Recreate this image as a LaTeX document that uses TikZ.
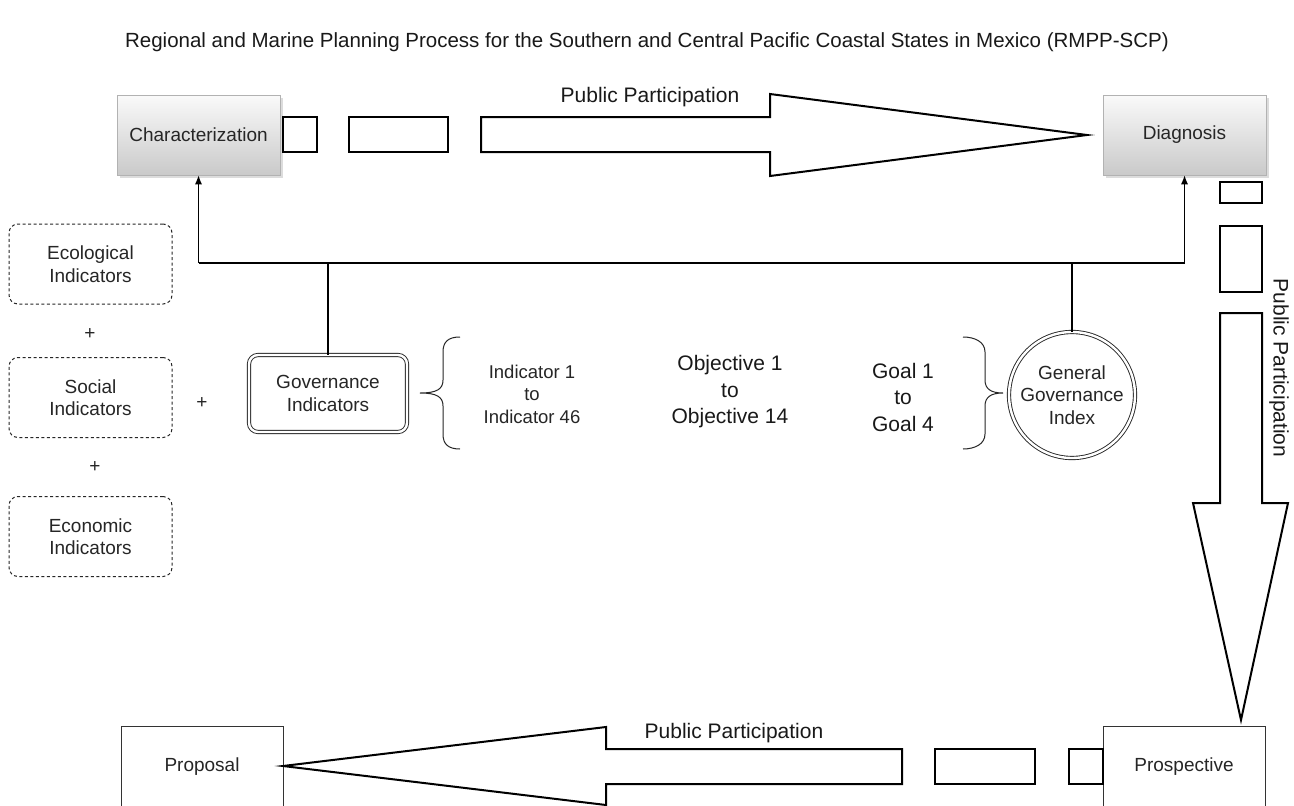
\documentclass[tikz,border=0pt]{standalone}
\usepackage{fontspec}
\setmainfont{Liberation Sans}
\usetikzlibrary{arrows.meta,shadows}
\begin{document}
\begin{tikzpicture}[x=1pt,y=-1pt,
  txt/.style={font=\fontsize{19}{22.5}\selectfont, text=black!85, align=center},
  bigtxt/.style={font=\fontsize{21}{26.5}\selectfont, text=black!90, align=center},
  graybox/.style={txt, minimum width=163pt, minimum height=80pt, inner sep=0pt,
    draw=gray!60, line width=0.6pt, top color=gray!4, bottom color=gray!42,
    drop shadow={shadow xshift=2.5pt, shadow yshift=-2.5pt, fill=gray!60, opacity=0.45}},
  whitebox/.style={txt, minimum width=162pt, minimum height=82pt, inner sep=0pt,
    draw=black!80, line width=0.9pt, fill=white},
  dashbox/.style={txt, minimum width=163pt, minimum height=80pt, inner sep=0pt,
    draw=black!85, line width=1pt, dash pattern=on 3pt off 2.5pt, rounded corners=9pt},
  dblbox/.style={txt, minimum width=158pt, minimum height=77pt, inner sep=0pt,
    draw=black!85, line width=0.9pt, double=white, double distance=2.4pt, rounded corners=9pt},
  dblcircle/.style={txt, circle, minimum size=126pt, inner sep=0pt,
    draw=black!85, line width=0.9pt, double=white, double distance=2.4pt},
  fatarrow/.style={draw=black, line width=2pt, line join=miter, fill=white},
  conn/.style={draw=black, line width=1.1pt},
  tip/.style={-{Latex[length=9pt,width=7pt]}},
  brace/.style={draw=black!85, line width=1pt}
]
\useasboundingbox (0,0) rectangle (1294,806);
\clip (0,0) rectangle (1294,806);
\fill[white] (0,0) rectangle (1294,806);

% title
\node[txt, font=\fontsize{20.5}{24}\selectfont, text=black!90] (title) at (647,42) {Regional and Marine Planning Process for the Southern and Central Pacific Coastal States in Mexico (RMPP-SCP)};

% main boxes
\node[graybox] (char) at (198.5,135) {Characterization};
\node[graybox] (diag) at (1184.5,135) {Diagnosis};
\node[whitebox] (prop) at (202,767) {Proposal};
\node[whitebox] (pros) at (1184,767) {Prospective};

% top fat arrow
\draw[fatarrow] (283,117) rectangle (317,152);
\draw[fatarrow] (349,117) rectangle (448,152);
\draw[fatarrow] (481,117) -- (770,117) -- (770,94) -- (1087,135) -- (770,176) -- (770,152) -- (481,152) -- cycle;
\node[bigtxt, anchor=base] (pp1) at (650,102) {Public Participation};

% right fat arrow
\draw[fatarrow] (1220,182) rectangle (1262,203);
\draw[fatarrow] (1220,226) rectangle (1262,292);
\draw[fatarrow] (1220,313) -- (1220,503) -- (1193,503) -- (1241,720) -- (1288,503) -- (1262,503) -- (1262,313) -- cycle;
\node[bigtxt, rotate=-90] (pp2) at (1279,368) {Public Participation};

% bottom fat arrow
\draw[fatarrow] (1069,749) rectangle (1103,784);
\draw[fatarrow] (935,749) rectangle (1035,784);
\draw[fatarrow] (902,749) -- (606,749) -- (606,727) -- (283,766) -- (606,805) -- (606,784) -- (902,784) -- cycle;
\node[bigtxt, anchor=base] (pp3) at (734,738) {Public Participation};

% left indicator boxes
\node[dashbox] (eco) at (90.5,264) {Ecological\\Indicators};
\node[dashbox] (soc) at (90.5,397.5) {Social\\Indicators};
\node[dashbox] (econ) at (90.5,536.5) {Economic\\Indicators};
\node[txt] (p1) at (90,334) {+};
\node[txt] (p2) at (95,467) {+};
\node[txt] (p3) at (202,403) {+};

% governance
\node[dblbox] (gov) at (328,393.5) {Governance\\Indicators};
\node[dblcircle] (ggi) at (1072,395) {General\\Governance\\Index};

% texts
\node[txt, font=\fontsize{18.5}{22.5}\selectfont] (ind) at (532,394) {Indicator 1\\to\\Indicator 46};
\node[bigtxt] (obj) at (730,392) {Objective 1\\to\\Objective 14};
\node[bigtxt] (goal) at (903,397) {Goal 1\\to\\Goal 4};

% braces
\draw[brace] (460,337) .. controls (448,337) and (443,342) .. (443,352) -- (443,380)
  .. controls (443,389) and (437,393) .. (420,393)
  .. controls (437,393) and (443,397) .. (443,406) -- (443,434)
  .. controls (443,444) and (448,449) .. (460,449);
\draw[brace] (963,337) .. controls (975,337) and (985,342) .. (985,352) -- (985,380)
  .. controls (985,389) and (991,393) .. (1003,393)
  .. controls (991,393) and (985,397) .. (985,406) -- (985,434)
  .. controls (985,444) and (975,449) .. (963,449);

% connectors
\coordinate (jl) at (198.5,263);
\coordinate (jr) at (1184.5,263);
\draw[conn] (jl) -- (jr);
\draw[conn, tip] (jl) -- (char.south);
\draw[conn, tip] (jr) -- (diag.south);
\draw[conn] (gov.north) -- (gov.north |- jl);
\draw[conn] (ggi.north) -- (ggi.north |- jl);
\end{tikzpicture}
\end{document}
